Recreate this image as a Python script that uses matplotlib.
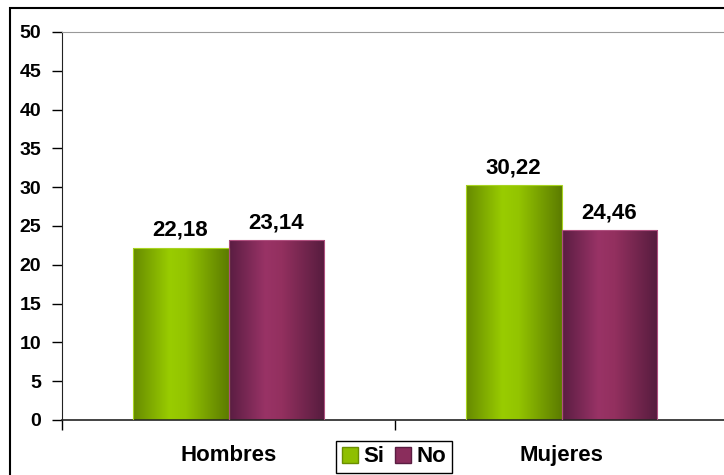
import numpy as np
import matplotlib
matplotlib.use("Agg")
import matplotlib.pyplot as plt
from matplotlib.colors import LinearSegmentedColormap
from matplotlib.patches import Rectangle, Patch

plt.rcParams['font.family'] = ['Liberation Sans', 'DejaVu Sans']
plt.rcParams['font.weight'] = 'bold'

categories = ["Hombres", "Mujeres"]
series_names = ["Si", "No"]
si_values = [22.18, 30.22]
no_values = [23.14, 24.46]
y_ticks = [0, 5, 10, 15, 20, 25, 30, 35, 40, 45, 50]

# shaded "cylinder" colour ramps (dark edge -> light -> dark edge)
green_cmap = LinearSegmentedColormap.from_list(
    "green_shade", [(0.0, "#668a00"), (0.38, "#99cc00"), (0.55, "#93c400"), (1.0, "#5c7c00")])
maroon_cmap = LinearSegmentedColormap.from_list(
    "maroon_shade", [(0.0, "#5a1d42"), (0.38, "#993366"), (0.55, "#93305f"), (1.0, "#561c3e")])

fig = plt.figure(figsize=(7.24, 4.75), dpi=100)
ax = fig.add_axes([62 / 724, 55 / 475, 666 / 724, 388 / 475])

x = np.arange(len(categories))
width = 0.288

def shaded_bars(xpos, values, cmap, edge):
    bars = ax.bar(xpos, values, width, facecolor="none", edgecolor=edge, linewidth=0.8, zorder=3)
    grad = np.linspace(0, 1, 256).reshape(1, -1)
    for b in bars:
        x0, y0 = b.get_x(), b.get_y()
        w, h = b.get_width(), b.get_height()
        im = ax.imshow(grad, cmap=cmap, aspect="auto", extent=[x0, x0 + w, y0, y0 + h],
                       zorder=2, interpolation="bilinear")
        im.set_clip_path(b)
    for b, v in zip(bars, values):
        ax.annotate(f"{v:.2f}".replace(".", ","), (b.get_x() + b.get_width() / 2, v),
                    xytext=(0, 5), textcoords="offset points", ha="center", va="bottom",
                    fontsize=16, fontweight="bold", color="black", zorder=4)
    return bars

shaded_bars(x - width / 2, si_values, green_cmap, "#a8d420")
shaded_bars(x + width / 2, no_values, maroon_cmap, "#b0507f")

ax.set_xlim(-0.5, len(categories) - 0.5)
ax.set_ylim(0, 50)
ax.set_yticks(y_ticks)
ax.set_yticklabels([str(t) for t in y_ticks], fontsize=14, fontweight="bold")
ax.tick_params(axis="y", direction="out", length=7, width=1, pad=8, colors="black")

# major x ticks sit between the groups, labels on minor ticks at group centres
ax.set_xticks(np.arange(len(categories) + 1) - 0.5)
ax.set_xticklabels([])
ax.tick_params(axis="x", which="major", direction="out", length=7, width=1)
ax.set_xticks(x, minor=True)
ax.set_xticklabels(categories, minor=True, fontsize=16, fontweight="bold")
ax.tick_params(axis="x", which="minor", length=0, pad=18)

ax.spines["left"].set_color("#222222")
ax.spines["bottom"].set_color("#222222")
ax.spines["bottom"].set_linewidth(1.2)
ax.spines["top"].set_color("#999999")
ax.spines["right"].set_color("#999999")
ax.set_xlim(-0.5, len(categories) - 0.5)

# outer chart frame
fig.patches.append(Rectangle((10 / 724, -0.1), 1.2, 1 - 8 / 475 + 0.1,
                             transform=fig.transFigure, fill=False,
                             edgecolor="black", linewidth=1.5))

handles = [Patch(facecolor="#8fbf00", edgecolor="#6a8e00"),
           Patch(facecolor="#8a2d5c", edgecolor="#5a1d42")]
leg = fig.legend(handles, series_names, loc="center", bbox_to_anchor=(394 / 724, 18 / 475),
                 ncol=2, frameon=True, fancybox=False, shadow=False, framealpha=1,
                 edgecolor="black", handlelength=0.7, handleheight=0.75, handletextpad=0.25,
                 columnspacing=0.5, borderpad=0.25, borderaxespad=0,
                 prop={"weight": "bold", "size": 16})
leg.get_frame().set_linewidth(1.0)

fig.savefig("out.png", dpi=100)
